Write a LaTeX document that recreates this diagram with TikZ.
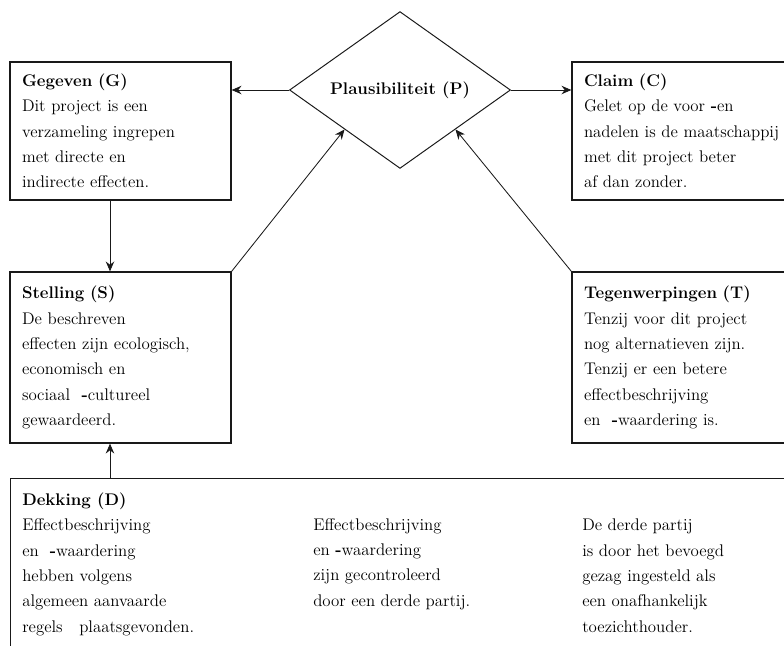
\documentclass[tikz,border=0pt]{standalone}
\usetikzlibrary{shapes.geometric,arrows.meta}
\begin{document}
\begin{tikzpicture}[
    tbox/.style={shape=rectangle,draw=toulmin_line,line width=0.9pt,align=left,inner xsep=0.3cm,font=\fontsize{12}{18}\selectfont},
    ttext/.style={anchor=base west,inner sep=0,align=left,font=\fontsize{12}{18}\selectfont},
    tarrow/.style={draw=toulmin_line,line width=0.6pt,-{Stealth[length=7pt,width=6pt]}}]
    \definecolor{toulmin_line}{RGB}{25,25,25}
    \useasboundingbox (0,0) rectangle (19.6,-16.125);
    \clip (0,0) rectangle (19.6,-16.125);
    \coordinate (leftaxis) at (2.75,0);
    \node[shape=diamond,draw=toulmin_line,line width=0.7pt,minimum width=5.525cm,minimum height=3.85cm,inner sep=0,font=\fontsize{12}{18}\selectfont\bfseries] (plaus) at (10.0,-2.25) {Plausibiliteit (P)};
    \node[tbox,minimum width=5.525cm,minimum height=3.45cm,text width=4.925cm] (gegeven) at (3.0125,-3.275) {\textbf{Gegeven (G)}\\ Dit project is een\\ verzameling ingrepen\\ met directe en\\ indirecte effecten.};
    \node[tbox,minimum width=6.2cm,minimum height=3.45cm,text width=5.6cm] (claim) at (17.4,-3.275) {\textbf{Claim (C)}\\ Gelet op de voor \textbf{-}en\\ nadelen is de maatschappij\\ met dit project beter\\ af dan zonder.};
    \node[tbox,minimum width=5.525cm,minimum height=4.275cm,text width=4.925cm] (stelling) at (3.0125,-8.9375) {\textbf{Stelling (S)}\\ De beschreven\\ effecten zijn ecologisch,\\ economisch en\\ sociaal\ \ \textbf{-}cultureel\\ gewaardeerd.};
    \node[tbox,minimum width=6.2cm,minimum height=4.275cm,text width=5.6cm] (tegen) at (17.4,-8.9375) {\textbf{Tegenwerpingen (T)}\\ Tenzij voor dit project\\ nog alternatieven zijn.\\ Tenzij er een betere\\ effectbeschrijving\\ en\ \ \textbf{-}waardering is.};
    \node[tbox,anchor=north west,minimum width=20cm,minimum height=5cm] (dekking) at (0.25,-11.95) {};
    % base anchor sits on the last line
    \node[ttext] (dekking1) at (0.55,-15.8) {\textbf{Dekking (D)}\\ Effectbeschrijving\\ en\ \ \textbf{-}waardering\\ hebben volgens\\ algemeen aanvaarde\\ regels\ \ \ plaatsgevonden.};
    \node[ttext] (dekking2) at (7.825,-15.15) {Effectbeschrijving\\ en\ \textbf{-}waardering\\ zijn gecontroleerd\\ door een derde partij.};
    \node[ttext] (dekking3) at (14.55,-15.8) {De derde partij\\ is door het bevoegd\\ gezag ingesteld als\\ een onafhankelijk\\ toezichthouder.};
    \draw[tarrow] (plaus.west) -- (plaus.west -| gegeven.east);
    \draw[tarrow] (plaus.east) -- (plaus.east -| claim.west);
    \draw[tarrow] (gegeven.south -| leftaxis) -- (stelling.north -| leftaxis);
    \draw[tarrow] (dekking.north -| leftaxis) -- (stelling.south -| leftaxis);
    \draw[tarrow] (stelling.north east) -- (plaus.south west);
    \draw[tarrow] (tegen.north west) -- (plaus.south east);
\end{tikzpicture}
\end{document}
